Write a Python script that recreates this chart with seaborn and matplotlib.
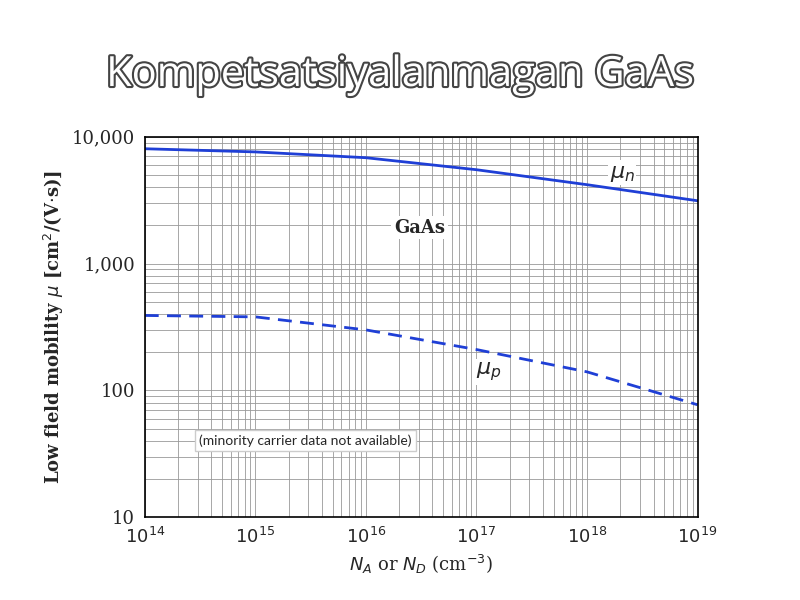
import matplotlib
matplotlib.use("Agg")
import matplotlib.pyplot as plt
import matplotlib.patheffects as pe
import seaborn as sns
import pandas as pd
from matplotlib.ticker import FixedLocator, LogLocator, NullFormatter

conc = [1e14, 1e15, 1e16, 1e17, 1e18, 1e19]
mu_n = [8050, 7600, 6840, 5500, 4190, 3130]
mu_p = [390, 380, 300, 210, 140, 77]
ytick_vals = [10, 100, 1000, 10000]
ytick_labels = ["10", "100", "1,000", "10,000"]

sns.set_style("white")
plt.rcParams['font.family'] = ['DejaVu Serif']

fig = plt.figure(figsize=(8, 6), dpi=100)
ax = fig.add_axes([0.181, 0.138, 0.691, 0.634])

df = pd.DataFrame({"N": conc * 2, "mu": mu_n + mu_p,
                   "s": ["n"] * 6 + ["p"] * 6})
sns.lineplot(data=df[df.s == "n"], x="N", y="mu", ax=ax, color="#1f3fd6", lw=2)
sns.lineplot(data=df[df.s == "p"], x="N", y="mu", ax=ax, color="#1f3fd6", lw=2,
             linestyle=(0, (5, 3)))
ax.set_xscale("log"); ax.set_yscale("log")
ax.set_xlim(1e14, 1e19); ax.set_ylim(10, 10000)
ax.set_yticks(ytick_vals); ax.set_yticklabels(ytick_labels, fontsize=13)
ax.xaxis.set_major_locator(FixedLocator(conc))
ax.set_xticklabels([r"$10^{%d}$" % e for e in range(14, 20)], fontsize=13)
ax.xaxis.set_minor_locator(LogLocator(subs=range(2, 10)))
ax.yaxis.set_minor_locator(LogLocator(subs=range(2, 10)))
ax.xaxis.set_minor_formatter(NullFormatter()); ax.yaxis.set_minor_formatter(NullFormatter())
ax.grid(True, which="both", color="#999999", lw=0.6)
for s in ax.spines.values():
    s.set_color("black"); s.set_linewidth(1.2)
ax.set_xlabel(r"$N_A$ or $N_D$ (cm$^{-3}$)", fontsize=13)
ax.set_ylabel(r"Low field mobility $\mu$ [cm$^2$/(V$\cdot$s)]", fontsize=13, fontweight="bold")
ax.text(1.8e16, 1920, "GaAs", fontsize=13, fontweight="bold", va="center",
        bbox=dict(facecolor="white", edgecolor="none", pad=2))
ax.text(1.6e18, 5200, r"$\mu_n$", fontsize=16, va="center",
        bbox=dict(facecolor="white", edgecolor="none", pad=1))
ax.text(1.0e17, 140, r"$\mu_p$", fontsize=16, va="center",
        bbox=dict(facecolor="white", edgecolor="none", pad=1))
ax.text(3.1e14, 40, "(minority carrier data not available)", fontsize=10,
        family="Lato", va="center", bbox=dict(facecolor="white", edgecolor="#cccccc", pad=3))

fig.text(0.5, 0.875, "Kompetsatsiyalanmagan GaAs", ha="center", va="center",
         fontsize=30, family="Open Sans", color="white",
         path_effects=[pe.withStroke(linewidth=3, foreground="#444444")])
fig.savefig("out.png", dpi=100)
